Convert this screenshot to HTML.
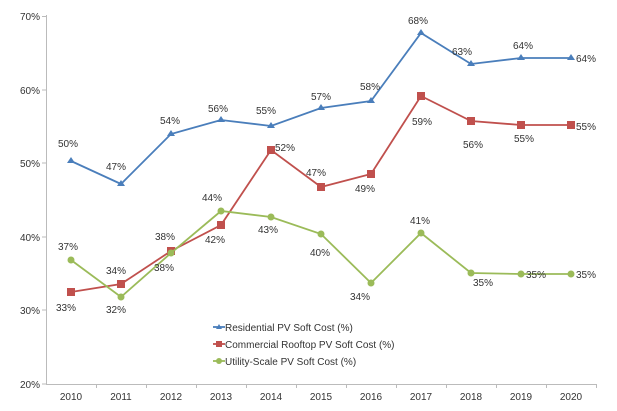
<!DOCTYPE html>
<html><head><style>body{margin:0;background:#fff}svg{display:block}text{font-family:"Liberation Sans",sans-serif;font-size:10px;fill:#333}</style></head><body>
<svg width="617" height="411" xmlns="http://www.w3.org/2000/svg">
<g stroke="#bbb" stroke-width="1" fill="none">
<line x1="46.5" y1="15" x2="46.5" y2="384"/>
<line x1="46" y1="384.5" x2="596" y2="384.5"/>
<path d="M42 16.5h4M42 90h4M42 163h4M42 237h4M42 310h4M42 384h4"/>
<path d="M96.5 384v4M146.5 384v4M196.5 384v4M246.5 384v4M296.5 384v4M346.5 384v4M396.5 384v4M446.5 384v4M496.5 384v4M546.5 384v4M596.5 384v4"/>
</g>
<g text-anchor="end">
<text x="40" y="20">70%</text><text x="40" y="94">60%</text><text x="40" y="167">50%</text><text x="40" y="241">40%</text><text x="40" y="314">30%</text><text x="40" y="388">20%</text>
</g>
<g text-anchor="middle">
<text x="71" y="400">2010</text><text x="121" y="400">2011</text><text x="171" y="400">2012</text><text x="221" y="400">2013</text><text x="271" y="400">2014</text><text x="321" y="400">2015</text><text x="371" y="400">2016</text><text x="421" y="400">2017</text><text x="471" y="400">2018</text><text x="521" y="400">2019</text><text x="571" y="400">2020</text>
</g>
<polyline fill="none" stroke="#4a7ebb" stroke-width="1.8" points="71,161 121,184 171,134 221,120 271,126 321,108 371,101 421,33 471,64 521,58 571,58"/>
<g fill="#4a7ebb">
<path d="M71,157l4,6h-8z M121,180l4,6h-8z M171,130l4,6h-8z M221,116l4,6h-8z M271,122l4,6h-8z M321,104l4,6h-8z M371,97l4,6h-8z M421,29l4,6h-8z M471,60l4,6h-8z M521,54l4,6h-8z M571,54l4,6h-8z"/>
</g>
<polyline fill="none" stroke="#c0504d" stroke-width="1.8" points="71,292 121,284 171,251 221,225 271,150 321,187 371,174 421,96 471,121 521,125 571,125"/>
<g fill="#c0504d">
<rect x="67" y="288" width="8" height="8"/><rect x="117" y="280" width="8" height="8"/><rect x="167" y="247" width="8" height="8"/><rect x="217" y="221" width="8" height="8"/><rect x="267" y="146" width="8" height="8"/><rect x="317" y="183" width="8" height="8"/><rect x="367" y="170" width="8" height="8"/><rect x="417" y="92" width="8" height="8"/><rect x="467" y="117" width="8" height="8"/><rect x="517" y="121" width="8" height="8"/><rect x="567" y="121" width="8" height="8"/>
</g>
<polyline fill="none" stroke="#9bbb59" stroke-width="1.8" points="71,260 121,297 171,253 221,211 271,217 321,234 371,283 421,233 471,273 521,274 571,274"/>
<g fill="#9bbb59">
<circle cx="71" cy="260" r="3.5"/><circle cx="121" cy="297" r="3.5"/><circle cx="171" cy="253" r="3.5"/><circle cx="221" cy="211" r="3.5"/><circle cx="271" cy="217" r="3.5"/><circle cx="321" cy="234" r="3.5"/><circle cx="371" cy="283" r="3.5"/><circle cx="421" cy="233" r="3.5"/><circle cx="471" cy="273" r="3.5"/><circle cx="521" cy="274" r="3.5"/><circle cx="571" cy="274" r="3.5"/>
</g>
<g text-anchor="middle">
<text x="68" y="147">50%</text><text x="116" y="170">47%</text><text x="170" y="124">54%</text><text x="218" y="112">56%</text><text x="266" y="114">55%</text><text x="321" y="100">57%</text><text x="370" y="90">58%</text><text x="418" y="24">68%</text><text x="462" y="55">63%</text><text x="523" y="49">64%</text>
<text x="66" y="311">33%</text><text x="116" y="274">34%</text><text x="165" y="240">38%</text><text x="215" y="243">42%</text><text x="316" y="176">47%</text><text x="365" y="192">49%</text><text x="422" y="125">59%</text><text x="473" y="148">56%</text><text x="524" y="142">55%</text>
<text x="68" y="250">37%</text><text x="116" y="313">32%</text><text x="164" y="271">38%</text><text x="212" y="201">44%</text><text x="268" y="233">43%</text><text x="320" y="256">40%</text><text x="360" y="300">34%</text><text x="420" y="224">41%</text><text x="483" y="286">35%</text>
</g>
<text x="275" y="151">52%</text>
<text x="576" y="62">64%</text><text x="576" y="130">55%</text><text x="576" y="278">35%</text><text x="526" y="278">35%</text>
<g>
<line x1="213" y1="327" x2="225" y2="327" stroke="#4a7ebb" stroke-width="1.8"/><path d="M219,324l3,5h-6z" fill="#4a7ebb"/>
<text x="225" y="331">Residential PV Soft Cost (%)</text>
<line x1="213" y1="344" x2="225" y2="344" stroke="#c0504d" stroke-width="1.8"/><rect x="216" y="341" width="6" height="6" fill="#c0504d"/>
<text x="225" y="348">Commercial Rooftop PV Soft Cost (%)</text>
<line x1="213" y1="361" x2="225" y2="361" stroke="#9bbb59" stroke-width="1.8"/><circle cx="219" cy="361" r="3" fill="#9bbb59"/>
<text x="225" y="365">Utility-Scale PV Soft Cost (%)</text>
</g>
</svg>
</body></html>
